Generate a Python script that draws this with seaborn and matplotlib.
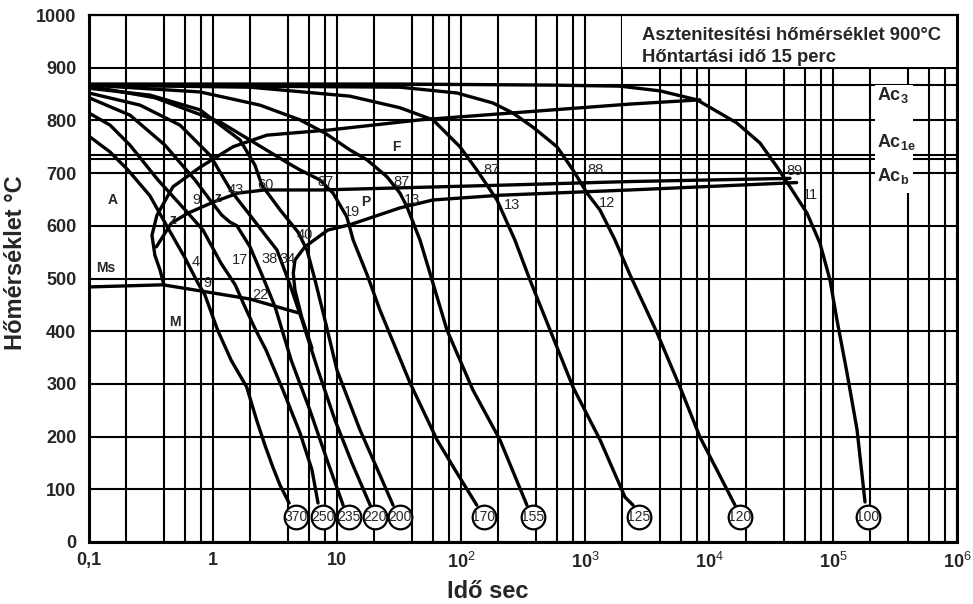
import numpy as np
import pandas as pd
import matplotlib
matplotlib.use("Agg")
import matplotlib.pyplot as plt
import matplotlib.patches as mpatches
from matplotlib.ticker import FixedLocator, FixedFormatter, NullFormatter
import seaborn as sns

# ---------------- data (time in s, temperature in °C) ----------------
c370_t = [0.1, 0.148, 0.206, 0.31, 0.433, 0.595, 0.757, 0.86, 1.09, 1.40, 1.87, 2.25, 2.62, 3.04, 3.47, 4.11]
c370_T = [770, 740, 706, 657, 596, 539, 491, 469, 402, 345, 294, 231, 184, 142, 108, 74]
c250_t = [0.1, 0.148, 0.214, 0.36, 0.629, 0.83, 1.16, 1.51, 1.81, 2.17, 2.68, 3.67, 5.03, 6.28, 7.03]
c250_T = [814, 791, 753, 687, 624, 592, 529, 488, 446, 406, 364, 288, 207, 137, 74]
c235_t = [0.1, 0.214, 0.41, 0.716, 0.946, 1.18, 1.37, 1.56, 1.99, 2.48, 3.17, 4.27, 6.05, 8.3, 11.2]
c235_T = [843, 810, 753, 687, 649, 620, 607, 600, 560, 507, 446, 345, 250, 156, 70]
c220_t = [0.1, 0.258, 0.542, 0.946, 1.42, 1.99, 2.63, 3.28, 4.18, 5.22, 7.03, 9.64, 13.2, 18.5]
c220_T = [852, 829, 791, 734, 664, 620, 583, 554, 488, 421, 326, 231, 150, 70]
c200_t = [0.1, 0.31, 0.786, 1.65, 2.18, 2.48, 3.48, 4.85, 5.73, 6.65, 8.0, 10.0, 15.3, 22.2, 28.3]
c200_T = [861, 848, 820, 763, 715, 677, 630, 588, 554, 497, 421, 326, 213, 127, 70]
c170_t = [0.1, 0.34, 1.14, 4.03, 5.03, 7.29, 9.29, 12.0, 13.5, 17.5, 22.2, 38.8, 64.0, 89.5, 134]
c170_T = [865, 843, 797, 719, 706, 687, 662, 617, 573, 507, 440, 302, 194, 137, 70]
c155_t = [0.1, 0.786, 2.39, 5.03, 8.0, 12.7, 17.5, 25.3, 32.2, 36.7, 46.7, 58.4, 77.1, 125, 206, 340]
c155_T = [867, 854, 829, 801, 776, 744, 725, 693, 662, 636, 573, 497, 402, 288, 194, 70]
c125_t = [0.1, 1.99, 12.7, 32.2, 59.5, 98, 134, 195, 272, 360, 800, 1321, 2104, 2440]
c125_T = [867, 863, 846, 824, 801, 750, 706, 649, 573, 497, 294, 194, 85, 70]
c120_t = [0.1, 32.2, 92.8, 181, 262, 381, 594, 800, 1038, 1321, 1746, 2306, 3810, 5837, 8460, 16200]
c120_T = [867, 863, 852, 833, 814, 787, 750, 706, 662, 630, 573, 507, 397, 294, 199, 70]
c100_t = [0.1, 32.2, 522, 1915, 4030, 8000, 16800, 25800, 35300, 45000, 61700, 78500, 94600, 107700, 129700, 156300, 181200]
c100_T = [869, 869, 867, 865, 856, 839, 795, 757, 712, 674, 624, 567, 497, 421, 321, 213, 76]

# transformation lines
fstart_t = [8450, 2307, 46.7, 8.79, 2.72, 1.45, 0.785, 0.475, 0.353, 0.322, 0.34, 0.374, 0.403]
fstart_T = [839, 831, 801, 782, 772, 750, 711, 674, 620, 582, 544, 516, 487]
pstart_t = [0.349, 0.461, 0.628, 1.03, 1.59, 2.61, 7.43, 32.2, 206, 2307, 45000]
pstart_T = [560, 605, 624, 646, 662, 668, 668, 672, 677, 684, 690]
bend_t = [6.28, 5.19, 4.58, 4.44, 4.58, 5.5, 8.45, 12.7, 32.2, 59.4, 206, 2307, 50900]
bend_T = [368, 427, 478, 510, 535, 560, 592, 602, 634, 649, 658, 668, 682]
ms_t = [0.1, 0.395, 0.815, 1.99, 4.85]
ms_T = [484, 488, 476, 461, 435]

# circle labels at the curve ends
end_labels = ["370", "250", "235", "220", "200", "170", "155", "125", "120", "100"]
end_t = [4.67, 7.71, 12.5, 20.2, 32.2, 153, 381, 2724, 17780, 191500]
end_T = [47] * 10

# small labels in the diagram
txt_labels = ["A", "Ms", "M", "z", "9", "z", "43", "60", "87", "87", "F", "19", "P", "13",
              "87", "13", "88", "12", "89", "11", "40", "4", "17", "38", "34", "9", "22"]
txt_t = [0.156, 0.137, 0.494, 0.476, 0.73, 1.09, 1.53, 2.63, 8.15, 33.4, 29.9, 13.2, 17.1, 40.3,
         175, 258, 1205, 1504, 48500, 66000, 5.52, 0.73, 1.65, 2.88, 4.03, 0.895, 2.39]
txt_T = [649, 520, 417, 611, 649, 653, 668, 677, 683, 683, 750, 626, 645, 649,
         706, 639, 706, 643, 704, 658, 583, 531, 535, 537, 537, 491, 469]
bold_labels = {"A", "Ms", "M", "z", "F", "P"}

extra_h = [868, 735, 726]   # additional critical-temperature lines
y_ticks = [0, 100, 200, 300, 400, 500, 600, 700, 800, 900, 1000]
x_ticks = [0.1, 1, 10, 1e2, 1e3, 1e4, 1e5, 1e6]
x_tick_labels = ["0,1", "1", "10", r"$\mathbf{10}^{2}$", r"$\mathbf{10}^{3}$",
                 r"$\mathbf{10}^{4}$", r"$\mathbf{10}^{5}$", r"$\mathbf{10}^{6}$"]

# ---------------- build long table ----------------
series = {
    "c370": (c370_t, c370_T), "c250": (c250_t, c250_T), "c235": (c235_t, c235_T),
    "c220": (c220_t, c220_T), "c200": (c200_t, c200_T), "c170": (c170_t, c170_T),
    "c155": (c155_t, c155_T), "c125": (c125_t, c125_T), "c120": (c120_t, c120_T),
    "c100": (c100_t, c100_T), "fstart": (fstart_t, fstart_T), "pstart": (pstart_t, pstart_T),
    "bend": (bend_t, bend_T), "ms": (ms_t, ms_T),
}
rows = []
for name, (ts, Ts) in series.items():
    for i, (a, b) in enumerate(zip(ts, Ts)):
        rows.append({"curve": name, "order": i, "t": a, "T": b})
df = pd.DataFrame(rows)

sns.set_theme(style="white")
plt.rcParams["font.family"] = ["Liberation Sans", "DejaVu Sans"]
plt.rcParams["mathtext.fontset"] = "custom"
plt.rcParams["mathtext.rm"] = "Liberation Sans"
plt.rcParams["mathtext.bf"] = "Liberation Sans:bold"
plt.rcParams["mathtext.it"] = "Liberation Sans"

fig = plt.figure(figsize=(9.73, 6.04), dpi=100)
ax = fig.add_axes([89 / 973, 1 - 542 / 604, 868 / 973, 527 / 604])

sns.lineplot(data=df, x="t", y="T", units="curve", estimator=None, sort=False,
             color="black", linewidth=2.4, ax=ax, legend=False, zorder=3)

ax.set_xscale("log")
ax.set_xlim(0.1, 1e6)
ax.set_ylim(0, 1000)

# grid
minor = [m * d for d in [0.1, 1, 10, 1e2, 1e3, 1e4, 1e5] for m in (2, 4, 6, 8)]
ax.xaxis.set_major_locator(FixedLocator(x_ticks))
ax.xaxis.set_major_formatter(FixedFormatter(x_tick_labels))
ax.xaxis.set_minor_locator(FixedLocator(minor))
ax.xaxis.set_minor_formatter(NullFormatter())
ax.set_yticks(y_ticks)
ax.set_axisbelow(True)
ax.grid(which="both", axis="x", color="black", linewidth=1.5)
ax.grid(which="major", axis="y", color="black", linewidth=1.5)
for h in extra_h:
    ax.axhline(h, color="black", linewidth=1.5, zorder=0.8)

ax.tick_params(which="both", length=0)
ax.tick_params(axis="y", pad=9)
ax.tick_params(axis="x", pad=7)
for lab in ax.get_yticklabels() + ax.get_xticklabels():
    lab.set_fontsize(13)
    lab.set_fontweight("bold")

for s in ax.spines.values():
    s.set_color("black")
    s.set_linewidth(2.2)
ax.spines["top"].set_linewidth(1.6)

ax.set_xlabel("")
ax.set_ylabel("")
fig.text(16 / 973, 1 - 263 / 604, "Hőmérséklet °C", rotation=90, ha="center", va="center",
         fontsize=17, fontweight="bold")
fig.text(488 / 973, 1 - 591 / 604, "Idő sec", ha="center", va="center",
         fontsize=17, fontweight="bold")

# white boxes behind the header text and the Ac labels
ax.add_patch(mpatches.Rectangle((0.614, 0.9015), 0.39, 0.1, transform=ax.transAxes,
                                facecolor="white", edgecolor="none", zorder=1))
ax.add_patch(mpatches.Rectangle((0.905, 0.662), 0.044, 0.205, transform=ax.transAxes,
                                facecolor="white", edgecolor="none", zorder=1))

ax.text(0.637, 0.9526, "Asztenitesítési hőmérséklet 900°C", transform=ax.transAxes,
        fontsize=13.3, fontweight="bold", va="baseline", ha="left", zorder=6)
ax.text(0.637, 0.9114, "Hőntartási idő 15 perc", transform=ax.transAxes,
        fontsize=13.3, fontweight="bold", va="baseline", ha="left", zorder=6)
for lab, yy in [(r"$\mathbf{Ac}_{\mathbf{3}}$", 0.839), (r"$\mathbf{Ac}_{\mathbf{1e}}$", 0.7495),
                (r"$\mathbf{Ac}_{\mathbf{b}}$", 0.685)]:
    ax.text(0.908, yy, lab, transform=ax.transAxes, fontsize=13, va="baseline", ha="left", zorder=6)

# end circles
sns.scatterplot(x=end_t, y=end_T, s=290, facecolor="white", edgecolor="black",
                linewidth=1.6, ax=ax, zorder=5, legend=False)
for lab, a, b in zip(end_labels, end_t, end_T):
    ax.text(a, b, lab, ha="center", va="center", fontsize=10, zorder=6,
            family=["Liberation Sans Narrow", "Liberation Sans"])

for lab, a, b in zip(txt_labels, txt_t, txt_T):
    ax.text(a, b, lab, ha="center", va="center", zorder=6,
            fontsize=10 if lab in bold_labels else 10.5,
            fontweight="bold" if lab in bold_labels else "normal",
            family=["Liberation Sans Narrow", "Liberation Sans"])

fig.savefig("out.png", dpi=100)
